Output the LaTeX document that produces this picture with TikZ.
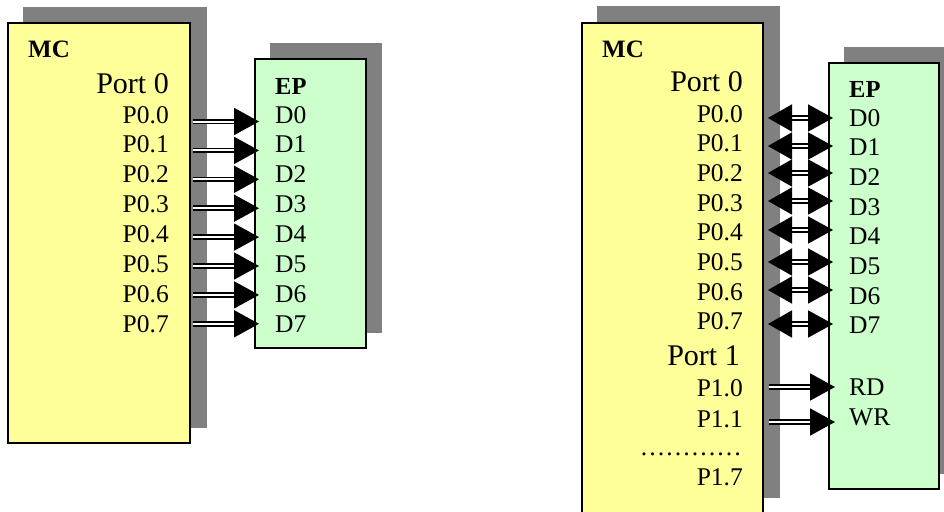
\documentclass[tikz,border=0pt]{standalone}
\usepackage{fontspec}
\setmainfont{Liberation Serif}
\usetikzlibrary{arrows.meta}
\definecolor{mcyellow}{RGB}{255,255,153}
\definecolor{epgreen}{RGB}{204,255,204}
\definecolor{shadowgray}{RGB}{128,128,128}
\tikzset{
  shadowbox/.style={fill=shadowgray,draw=none},
  mcbox/.style={fill=mcyellow,draw=black,line width=1.2pt},
  epbox/.style={fill=epgreen,draw=black,line width=1.2pt},
  pinlabel/.style={inner sep=0pt,anchor=base east,font=\fontsize{25.5}{30}\selectfont},
  portlabel/.style={inner sep=0pt,anchor=base east,font=\fontsize{30}{36}\selectfont},
  dlabel/.style={inner sep=0pt,anchor=base west,font=\fontsize{25.5}{30}\selectfont},
  titlelabel/.style={inner sep=0pt,anchor=base west,font=\fontsize{25}{30}\selectfont\bfseries},
  busline/.style={draw=black,double=white,line width=1.8pt,double distance=2pt},
  onearrow/.style={busline,-{Triangle[length=25pt,width=27pt]}},
  twoarrow/.style={busline,{Triangle[length=24pt,width=27pt]}-{Triangle[length=25pt,width=27pt]}}
}
\begin{document}
\begin{tikzpicture}[x=1pt,y=-1pt]
\useasboundingbox (0,0) rectangle (944,511);
% ---------------- left diagram ----------------
\fill[shadowbox] (23,7) rectangle (207,428);
\draw[mcbox] (8,23) rectangle (190,443);
\fill[shadowbox] (270,43) rectangle (382,333);
\draw[epbox] (255,59) rectangle (366,348);
\node[titlelabel] (lMC) at (28,58) {MC};
\node[portlabel] (lPort0) at (169,93) {Port 0};
\node[titlelabel,font=\fontsize{24.5}{30}\selectfont\bfseries] (lEP) at (275,94) {EP};
\foreach \i in {0,...,7}{
  \pgfmathsetmacro{\by}{123+29.9*\i}
  \pgfmathsetmacro{\ay}{121.5+28.9*\i}
  \node[pinlabel] (lP\i) at (169,\by) {P0.\i};
  \node[dlabel] (lD\i) at (275,\by) {D\i};
  \coordinate (lS\i) at (193,\ay);
  \coordinate (lE\i) at (259,\ay);
  \draw[onearrow] (lS\i) -- (lE\i);
}
% ---------------- right diagram ----------------
\fill[shadowbox] (597,6) rectangle (780,498);
\draw[mcbox] (582,23) -- (582,520) -- (763,520) -- (763,23) -- cycle;
\fill[shadowbox] (844,47) rectangle (944,474);
\draw[epbox] (829,63) rectangle (939,489);
\node[titlelabel] (rMC) at (602,58) {MC};
\node[portlabel] (rPort0) at (743,91) {Port 0};
\node[titlelabel,font=\fontsize{24.5}{30}\selectfont\bfseries] (rEP) at (849,97) {EP};
\foreach \i/\ay in {0/118,1/146,2/173,3/201,4/230,5/262,6/290,7/324}{
  \pgfmathsetmacro{\by}{122+29.7*\i}
  \pgfmathsetmacro{\dy}{126+29.7*\i}
  \node[pinlabel] (rP\i) at (743,\by) {P0.\i};
  \node[dlabel] (rD\i) at (849,\dy) {D\i};
  \coordinate (rS\i) at (768,\ay);
  \coordinate (rE\i) at (833,\ay);
  \draw[twoarrow] (rS\i) -- (rE\i);
}
\node[portlabel] (rPort1) at (740,365) {Port 1};
\node[pinlabel] (rP10) at (743,396) {P1.0};
\node[pinlabel] (rP11) at (743,427) {P1.1};
\node[pinlabel] (rDots) at (742,455) {\dots\dots\dots\dots};
\node[pinlabel] (rP17) at (743,485) {P1.7};
\node[dlabel] (rRD) at (849,395) {RD};
\node[dlabel] (rWR) at (849,425) {WR};
\coordinate (rS10) at (769,387);
\coordinate (rE10) at (835,387);
\coordinate (rS11) at (769,422);
\coordinate (rE11) at (835,422);
\draw[onearrow] (rS10) -- (rE10);
\draw[onearrow] (rS11) -- (rE11);
\end{tikzpicture}
\end{document}
